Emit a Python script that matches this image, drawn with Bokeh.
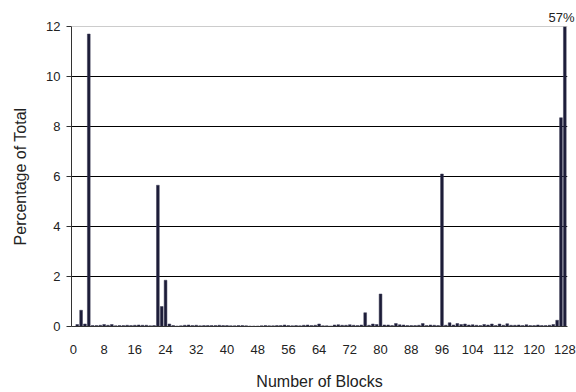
from bokeh.plotting import figure
from bokeh.models import ColumnDataSource, Range1d, FixedTicker, Span
from bokeh.embed import file_html
from bokeh.resources import INLINE

blocks = list(range(1, 129))
percent = [
    0.08, 0.65, 0.10, 11.7, 0.04, 0.04, 0.05, 0.08, 0.05, 0.08,
    0.03, 0.04, 0.04, 0.05, 0.04, 0.05, 0.06, 0.05, 0.05, 0.03,
    0.04, 5.65, 0.80, 1.85, 0.10, 0.04, 0.02, 0.03, 0.05, 0.06,
    0.04, 0.05, 0.03, 0.04, 0.04, 0.04, 0.04, 0.05, 0.04, 0.04,
    0.03, 0.03, 0.04, 0.04, 0.03, 0.02, 0.02, 0.02, 0.03, 0.04,
    0.03, 0.03, 0.04, 0.04, 0.06, 0.04, 0.03, 0.04, 0.03, 0.05,
    0.06, 0.04, 0.05, 0.10, 0.03, 0.03, 0.02, 0.06, 0.07, 0.05,
    0.05, 0.07, 0.05, 0.04, 0.06, 0.55, 0.05, 0.10, 0.08, 1.30,
    0.06, 0.06, 0.04, 0.12, 0.07, 0.06, 0.04, 0.04, 0.04, 0.05,
    0.12, 0.04, 0.06, 0.05, 0.04, 6.10, 0.05, 0.15, 0.06, 0.12,
    0.08, 0.10, 0.06, 0.07, 0.05, 0.04, 0.08, 0.06, 0.10, 0.04,
    0.10, 0.05, 0.11, 0.05, 0.05, 0.06, 0.04, 0.07, 0.04, 0.04,
    0.06, 0.04, 0.04, 0.05, 0.08, 0.25, 8.35, 57.0,
]
x_ticks = list(range(0, 129, 8))
y_ticks = [0, 2, 4, 6, 8, 10, 12]

FONT = "Liberation Sans"

src = ColumnDataSource(dict(x=blocks, top=percent))

p = figure(width=576, height=392, output_backend="svg", toolbar_location=None,
           x_range=Range1d(-0.5, 128.7), y_range=Range1d(0, 12),
           min_border_left=71, min_border_right=9, min_border_top=26,
           min_border_bottom=66)

p.vbar(x="x", top="top", bottom=0, width=0.72, source=src,
       fill_color="#1c1c38", line_color="#3a3a55", line_width=0.5)

p.outline_line_color = None
p.xgrid.grid_line_color = None
p.ygrid.ticker = FixedTicker(ticks=[2, 4, 6, 8, 10])
p.ygrid.grid_line_color = "black"
p.ygrid.grid_line_width = 1
p.add_layout(Span(location=12, dimension="width", line_color="#999999", line_width=1))

p.xaxis.ticker = FixedTicker(ticks=x_ticks)
p.yaxis.ticker = FixedTicker(ticks=y_ticks)
p.xaxis.axis_label = "Number of Blocks"
p.yaxis.axis_label = "Percentage of Total"

for ax in (p.xaxis[0], p.yaxis[0]):
    ax.axis_line_color = "#333333"
    ax.major_label_text_font = FONT
    ax.major_label_text_font_size = "13px"
    ax.major_label_text_color = "#222222"
    ax.axis_label_text_font = FONT
    ax.axis_label_text_font_size = "16px"
    ax.axis_label_text_font_style = "normal"
    ax.axis_label_text_color = "#222222"
    ax.minor_tick_line_color = None

p.xaxis.major_tick_line_color = None
p.xaxis.major_tick_out = 0
p.xaxis.major_label_standoff = 18
p.xaxis.axis_label_standoff = 16
p.yaxis.major_tick_out = 5
p.yaxis.major_tick_in = 0
p.yaxis.major_tick_line_color = "#333333"
p.yaxis.major_label_standoff = 6
p.yaxis.axis_label_standoff = 14

# clipped-bar value note, shown above the plot's top-right corner
p.title.text = f"{percent[-1]:.0f}%"
p.title.align = "right"
p.title.offset = -7
p.title.standoff = 4
p.title.text_font = FONT
p.title.text_font_size = "13px"
p.title.text_font_style = "normal"
p.title.text_color = "#222222"

open("out.html", "w").write(file_html(p, INLINE))
